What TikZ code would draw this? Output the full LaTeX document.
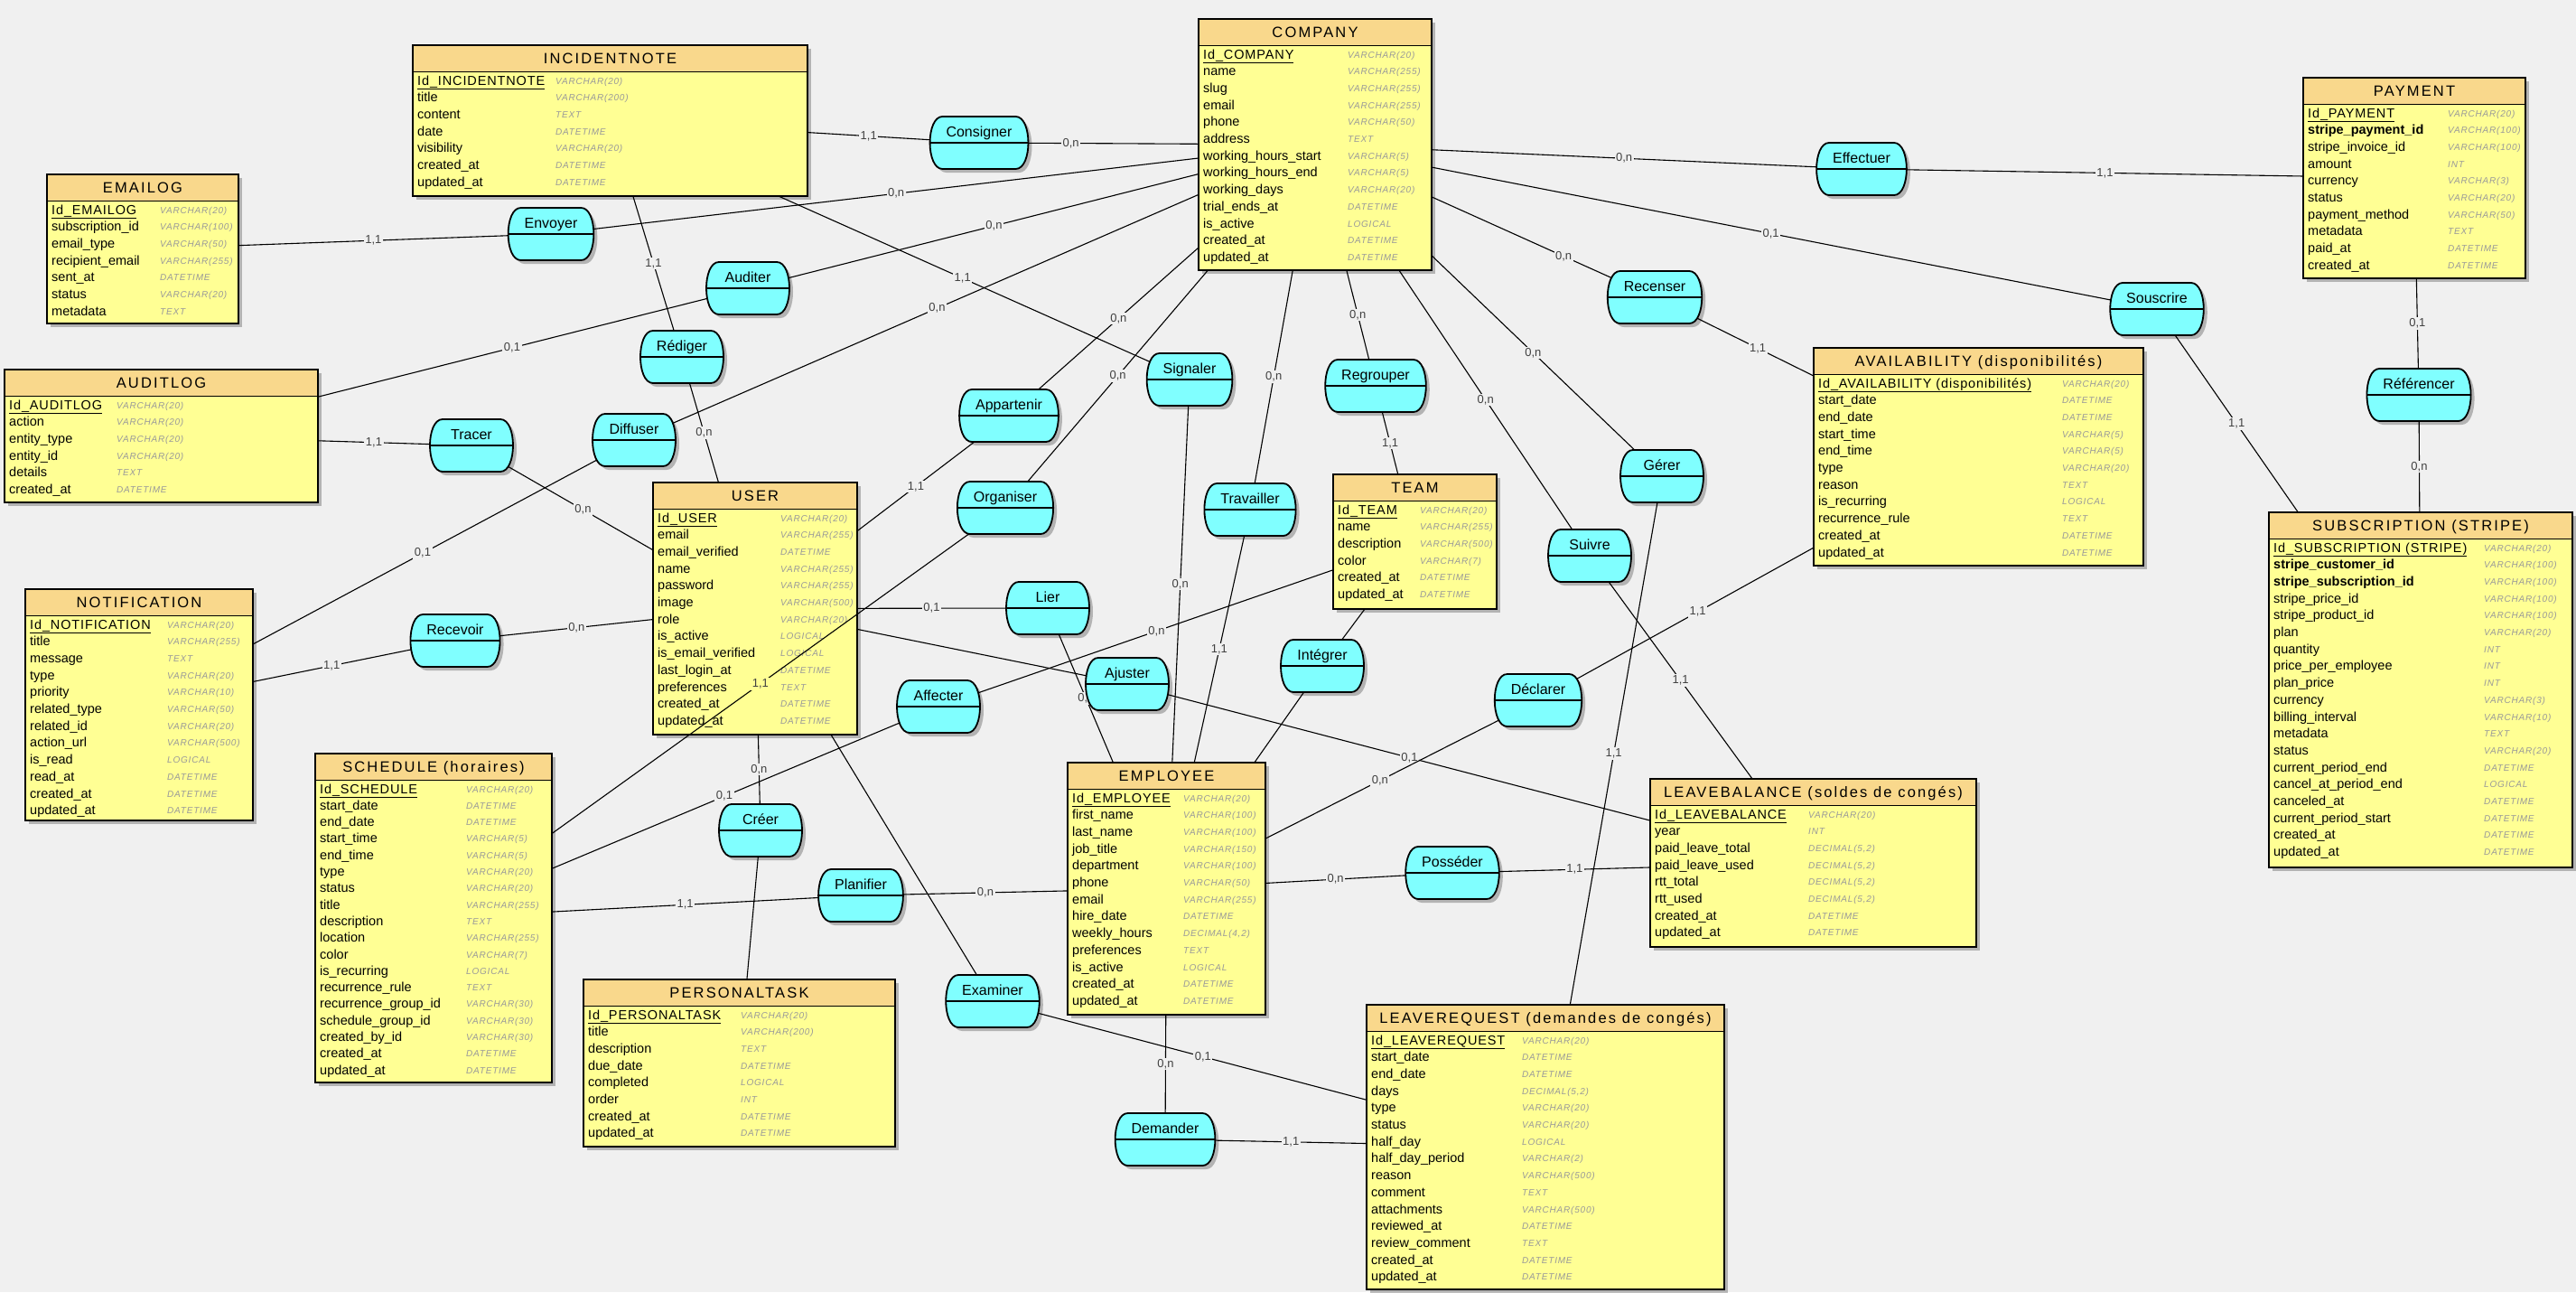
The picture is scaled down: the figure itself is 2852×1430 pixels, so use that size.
\documentclass[tikz,border=0pt]{standalone}
\usepackage{fontspec}
\setmainfont{Liberation Sans}
\newfontfamily\titrefont[LetterSpace=13]{Liberation Sans}
\newfontfamily\idfont[LetterSpace=6]{Liberation Sans}
\newfontfamily\formatfont[LetterSpace=8]{Liberation Sans}
\usetikzlibrary{calc,shadows}
\definecolor{fondcol}{RGB}{240,240,240}
\definecolor{entete}{RGB}{249,216,140}
\definecolor{corps}{RGB}{255,255,148}
\definecolor{assocfill}{RGB}{128,255,255}
\pgfdeclarelayer{fond}
\pgfdeclarelayer{liens}
\pgfdeclarelayer{tonneaux}
\pgfdeclarelayer{assocs}
\pgfsetlayers{fond,main,liens,tonneaux,assocs}

\tikzstyle{ombre}=[drop shadow={shadow xshift=4pt,shadow yshift=-4pt,fill=black,opacity=0.25}]
\tikzstyle{entite}=[fill=corps,inner sep=0pt,outer sep=0pt,ombre]
\tikzstyle{bord}=[line width=1.8pt]
\tikzstyle{titre}=[inner sep=0pt,text height=12pt,text depth=0pt,font=\titrefont\fontsize{16.5}{18}\selectfont]
\tikzstyle{champ}=[anchor=west,inner sep=0pt,text height=9pt,text depth=0pt,font=\fontsize{14.5}{16}\selectfont]
\tikzstyle{format}=[anchor=west,inner sep=0pt,text height=7pt,text depth=0pt,text=black!40,font=\formatfont\itshape\fontsize{10}{12}\selectfont]
\tikzstyle{assoc}=[minimum width=92pt,minimum height=58pt,inner xsep=18pt,inner ysep=4pt,outer sep=0pt,text height=18pt,text depth=32pt,font=\fontsize{16}{18}\selectfont]
\tikzstyle{tonneau}=[bord,fill=assocfill,ombre]
\tikzstyle{lien}=[line width=1.1pt]
\tikzstyle{card}=[pos=0.5,fill=fondcol,inner sep=1.5pt,text=black!75,font=\fontsize{13}{14}\selectfont]

\def\headh{29.5}
\def\rowh{18.7}
\def\bombe{14}

\newcommand{\cle}[1]{\underline{\idfont #1}}

% \entite{name}{top left}{width}{height}{format column}{title}{rows}
\newcommand{\entite}[7]{%
  \node[entite,minimum width=#3,minimum height=#4,anchor=north west] (#1) at #2 {};
  \fill[entete] (#1.north west) rectangle ($(#1.north east)+(0,\headh)$);
  \draw[bord] ($(#1.north west)+(0,\headh)$) -- ($(#1.north east)+(0,\headh)$);
  \draw[bord] (#1.north west) rectangle (#1.south east);
  \node[titre] (#1-titre) at ($(#1.north)+(0,\headh/2)$) {#6};
  \foreach \attr/\fmt [count=\i] in {#7}{
    \node[champ] (#1-a\i) at ($(#1.north west)+(5,\headh+10+\i*\rowh-\rowh)$) {\attr};
    \node[format] (#1-f\i) at ($(#1.north west)+(#5,\headh+10+\i*\rowh-\rowh)$) {\fmt};
  }
}

% \lien[label options]{association}{entity}{cardinality}
\newcommand{\lien}[4][]{%
  \begin{pgfonlayer}{liens}
    \draw[lien] (#2.center) -- (#3);
    \path (#2) -- node[card,#1] {#4} (#3);
  \end{pgfonlayer}
}
\newcommand{\trait}[2]{%
  \begin{pgfonlayer}{liens}
    \draw[lien] (#1.center) -- (#2);
  \end{pgfonlayer}
}

\begin{document}
\begin{tikzpicture}[x=1pt,y=-1pt]
  \useasboundingbox (0,0) rectangle (2852,1430);
  \begin{pgfonlayer}{fond}
    \fill[fondcol] (0,0) rectangle (2852,1430);
  \end{pgfonlayer}

  % ENTITIES
  \entite{incidentnote}{(457,50)}{437}{167}{158}{INCIDENTNOTE}{%
    \cle{Id\_INCIDENTNOTE}/VARCHAR(20), title/VARCHAR(200), content/TEXT,%
    date/DATETIME, visibility/VARCHAR(20), created\_at/DATETIME, updated\_at/DATETIME}
  \entite{emailog}{(52,193)}{212}{165}{125}{EMAILOG}{%
    \cle{Id\_EMAILOG}/VARCHAR(20), subscription\_id/VARCHAR(100), email\_type/VARCHAR(50),%
    recipient\_email/VARCHAR(255), sent\_at/DATETIME, status/VARCHAR(20), metadata/TEXT}
  \entite{company}{(1327,21)}{258}{278}{165}{COMPANY}{%
    \cle{Id\_COMPANY}/VARCHAR(20), name/VARCHAR(255), slug/VARCHAR(255), email/VARCHAR(255),%
    phone/VARCHAR(50), address/TEXT, working\_hours\_start/VARCHAR(5),%
    working\_hours\_end/VARCHAR(5), working\_days/VARCHAR(20), trial\_ends\_at/DATETIME,%
    is\_active/LOGICAL, created\_at/DATETIME, updated\_at/DATETIME}
  \entite{payment}{(2550,86)}{246}{222}{160}{PAYMENT}{%
    \cle{Id\_PAYMENT}/VARCHAR(20), \textbf{stripe\_payment\_id}/VARCHAR(100),%
    stripe\_invoice\_id/VARCHAR(100), amount/INT, currency/VARCHAR(3), status/VARCHAR(20),%
    payment\_method/VARCHAR(50), metadata/TEXT, paid\_at/DATETIME, created\_at/DATETIME}
  \entite{auditlog}{(5,409)}{347}{147}{124}{AUDITLOG}{%
    \cle{Id\_AUDITLOG}/VARCHAR(20), action/VARCHAR(20), entity\_type/VARCHAR(20),%
    entity\_id/VARCHAR(20), details/TEXT, created\_at/DATETIME}
  \entite{notification}{(28,652)}{252}{256}{157}{NOTIFICATION}{%
    \cle{Id\_NOTIFICATION}/VARCHAR(20), title/VARCHAR(255), message/TEXT, type/VARCHAR(20),%
    priority/VARCHAR(10), related\_type/VARCHAR(50), related\_id/VARCHAR(20),%
    action\_url/VARCHAR(500), is\_read/LOGICAL, read\_at/DATETIME, created\_at/DATETIME,%
    updated\_at/DATETIME}
  \entite{user}{(723,534)}{226}{279}{141}{USER}{%
    \cle{Id\_USER}/VARCHAR(20), email/VARCHAR(255), email\_verified/DATETIME,%
    name/VARCHAR(255), password/VARCHAR(255), image/VARCHAR(500), role/VARCHAR(20),%
    is\_active/LOGICAL, is\_email\_verified/LOGICAL, last\_login\_at/DATETIME,%
    preferences/TEXT, created\_at/DATETIME, updated\_at/DATETIME}
  \entite{team}{(1476,525)}{181}{149}{96}{TEAM}{%
    \cle{Id\_TEAM}/VARCHAR(20), name/VARCHAR(255), description/VARCHAR(500),%
    color/VARCHAR(7), created\_at/DATETIME, updated\_at/DATETIME}
  \entite{availability}{(2008,385)}{365}{241}{275}{AVAILABILITY (disponibilités)}{%
    \cle{Id\_AVAILABILITY (disponibilités)}/VARCHAR(20), start\_date/DATETIME,%
    end\_date/DATETIME, start\_time/VARCHAR(5), end\_time/VARCHAR(5), type/VARCHAR(20),%
    reason/TEXT, is\_recurring/LOGICAL, recurrence\_rule/TEXT, created\_at/DATETIME,%
    updated\_at/DATETIME}
  \entite{subscription}{(2512,567)}{336}{393}{238}{SUBSCRIPTION (STRIPE)}{%
    \cle{Id\_SUBSCRIPTION (STRIPE)}/VARCHAR(20), \textbf{stripe\_customer\_id}/VARCHAR(100),%
    \textbf{stripe\_subscription\_id}/VARCHAR(100), stripe\_price\_id/VARCHAR(100),%
    stripe\_product\_id/VARCHAR(100), plan/VARCHAR(20), quantity/INT,%
    price\_per\_employee/INT, plan\_price/INT, currency/VARCHAR(3),%
    billing\_interval/VARCHAR(10), metadata/TEXT, status/VARCHAR(20),%
    current\_period\_end/DATETIME, cancel\_at\_period\_end/LOGICAL, canceled\_at/DATETIME,%
    current\_period\_start/DATETIME, created\_at/DATETIME, updated\_at/DATETIME}
  \def\rowh{18.3}
  \entite{schedule}{(349,834)}{262}{364}{167}{SCHEDULE (horaires)}{%
    \cle{Id\_SCHEDULE}/VARCHAR(20), start\_date/DATETIME, end\_date/DATETIME,%
    start\_time/VARCHAR(5), end\_time/VARCHAR(5), type/VARCHAR(20), status/VARCHAR(20),%
    title/VARCHAR(255), description/TEXT, location/VARCHAR(255), color/VARCHAR(7),%
    is\_recurring/LOGICAL, recurrence\_rule/TEXT, recurrence\_group\_id/VARCHAR(30),%
    schedule\_group\_id/VARCHAR(30), created\_by\_id/VARCHAR(30), created\_at/DATETIME,%
    updated\_at/DATETIME}
  \def\rowh{18.7}
  \entite{employee}{(1182,844)}{219}{279}{128}{EMPLOYEE}{%
    \cle{Id\_EMPLOYEE}/VARCHAR(20), first\_name/VARCHAR(100), last\_name/VARCHAR(100),%
    job\_title/VARCHAR(150), department/VARCHAR(100), phone/VARCHAR(50),%
    email/VARCHAR(255), hire\_date/DATETIME, weekly\_hours/{DECIMAL(4,2)},%
    preferences/TEXT, is\_active/LOGICAL, created\_at/DATETIME, updated\_at/DATETIME}
  \entite{leavebalance}{(1827,862)}{361}{186}{175}{LEAVEBALANCE (soldes de congés)}{%
    \cle{Id\_LEAVEBALANCE}/VARCHAR(20), year/INT, paid\_leave\_total/{DECIMAL(5,2)},%
    paid\_leave\_used/{DECIMAL(5,2)}, rtt\_total/{DECIMAL(5,2)}, rtt\_used/{DECIMAL(5,2)},%
    created\_at/DATETIME, updated\_at/DATETIME}
  \entite{personaltask}{(646,1084)}{345}{185}{174}{PERSONALTASK}{%
    \cle{Id\_PERSONALTASK}/VARCHAR(20), title/VARCHAR(200), description/TEXT,%
    due\_date/DATETIME, completed/LOGICAL, order/INT, created\_at/DATETIME,%
    updated\_at/DATETIME}
  \entite{leaverequest}{(1513,1112)}{396}{315}{172}{LEAVEREQUEST (demandes de congés)}{%
    \cle{Id\_LEAVEREQUEST}/VARCHAR(20), start\_date/DATETIME, end\_date/DATETIME,%
    days/{DECIMAL(5,2)}, type/VARCHAR(20), status/VARCHAR(20), half\_day/LOGICAL,%
    half\_day\_period/VARCHAR(2), reason/VARCHAR(500), comment/TEXT,%
    attachments/VARCHAR(500), reviewed\_at/DATETIME, review\_comment/TEXT,%
    created\_at/DATETIME, updated\_at/DATETIME}

  % ASSOCIATIONS
  \begin{pgfonlayer}{assocs}
    \node[assoc] (consigner)  at (1084,158)  {Consigner};
    \node[assoc] (envoyer)    at (610,259)   {Envoyer};
    \node[assoc] (auditer)    at (828,319)   {Auditer};
    \node[assoc] (rediger)    at (755,395)   {Rédiger};
    \node[assoc] (diffuser)   at (702,487)   {Diffuser};
    \node[assoc] (tracer)     at (522,493)   {Tracer};
    \node[assoc] (recevoir)   at (504,709)   {Recevoir};
    \node[assoc] (signaler)   at (1317,420)  {Signaler};
    \node[assoc] (appartenir) at (1117,460)  {Appartenir};
    \node[assoc] (organiser)  at (1113,562)  {Organiser};
    \node[assoc] (regrouper)  at (1523,427)  {Regrouper};
    \node[assoc] (travailler) at (1384,564)  {Travailler};
    \node[assoc] (lier)       at (1160,673)  {Lier};
    \node[assoc] (ajuster)    at (1248,757)  {Ajuster};
    \node[assoc] (affecter)   at (1039,782)  {Affecter};
    \node[assoc] (integrer)   at (1464,737)  {Intégrer};
    \node[assoc] (creer)      at (842,919)   {Créer};
    \node[assoc] (planifier)  at (953,991)   {Planifier};
    \node[assoc] (examiner)   at (1099,1108) {Examiner};
    \node[assoc] (demander)   at (1290,1261) {Demander};
    \node[assoc] (posseder)   at (1608,966)  {Posséder};
    \node[assoc] (declarer)   at (1703,775)  {Déclarer};
    \node[assoc] (suivre)     at (1760,615)  {Suivre};
    \node[assoc] (gerer)      at (1840,527)  {Gérer};
    \node[assoc] (recenser)   at (1832,329)  {Recenser};
    \node[assoc] (effectuer)  at (2061,187)  {Effectuer};
    \node[assoc] (souscrire)  at (2388,342)  {Souscrire};
    \node[assoc] (referencer) at (2678,437)  {Référencer};
  \end{pgfonlayer}
  % barrel outlines behind the association texts
  \begin{pgfonlayer}{tonneaux}
    \foreach \asso in {consigner,envoyer,auditer,rediger,diffuser,tracer,recevoir,
      signaler,appartenir,organiser,regrouper,travailler,lier,ajuster,affecter,
      integrer,creer,planifier,examiner,demander,posseder,declarer,suivre,gerer,
      recenser,effectuer,souscrire,referencer}{
      \draw[tonneau] ($(\asso.north west)+(\bombe,0)$) -- ($(\asso.north east)+(-\bombe,0)$)
        .. controls ($(\asso.north east)+(\bombe/3,0)$) and ($(\asso.south east)+(\bombe/3,0)$) .. ($(\asso.south east)+(-\bombe,0)$)
        -- ($(\asso.south west)+(\bombe,0)$)
        .. controls ($(\asso.south west)+(-\bombe/3,0)$) and ($(\asso.north west)+(-\bombe/3,0)$) .. cycle;
      \draw[bord] (\asso.west) -- (\asso.east);
    }
  \end{pgfonlayer}

  % LINKS
  \lien{consigner}{incidentnote}{1,1}
  \lien[pos=0.25]{consigner}{company}{0,n}
  \lien{envoyer}{emailog}{1,1}
  \lien{envoyer}{company}{0,n}
  \lien{auditer}{auditlog}{0,1}
  \lien{auditer}{company}{0,n}
  \lien{rediger}{incidentnote}{1,1}
  \lien{rediger}{user}{0,n}
  \lien{diffuser}{notification}{0,1}
  \lien{diffuser}{company}{0,n}
  \lien{tracer}{auditlog}{1,1}
  \lien{tracer}{user}{0,n}
  \lien{recevoir}{notification}{1,1}
  \lien{recevoir}{user}{0,n}
  \lien{signaler}{incidentnote}{1,1}
  \lien{signaler}{employee}{0,n}
  \lien{appartenir}{user}{1,1}
  \lien{appartenir}{company}{0,n}
  \lien[fill=corps]{organiser}{schedule}{1,1}
  \lien{organiser}{company}{0,n}
  \lien{regrouper}{company}{0,n}
  \lien{regrouper}{team}{1,1}
  \lien{travailler}{company}{0,n}
  \lien{travailler}{employee}{1,1}
  \lien{lier}{user}{0,1}
  \lien{lier}{employee}{0,1}
  \trait{ajuster}{user}
  \lien{ajuster}{leavebalance}{0,1}
  \lien{affecter}{schedule}{0,1}
  \lien{affecter}{team}{0,n}
  \trait{integrer}{team}
  \trait{integrer}{employee}
  \lien{creer}{user}{0,n}
  \trait{creer}{personaltask}
  \lien{planifier}{schedule}{1,1}
  \lien{planifier}{employee}{0,n}
  \trait{examiner}{user}
  \lien{examiner}{leaverequest}{0,1}
  \lien{demander}{employee}{0,n}
  \lien{demander}{leaverequest}{1,1}
  \lien{posseder}{employee}{0,n}
  \lien{posseder}{leavebalance}{1,1}
  \lien{declarer}{availability}{1,1}
  \lien{declarer}{employee}{0,n}
  \lien{suivre}{company}{0,n}
  \lien{suivre}{leavebalance}{1,1}
  \lien{gerer}{company}{0,n}
  \lien{gerer}{leaverequest}{1,1}
  \lien[pos=0.25]{recenser}{company}{0,n}
  \lien{recenser}{availability}{1,1}
  \lien{effectuer}{company}{0,n}
  \lien{effectuer}{payment}{1,1}
  \lien{souscrire}{company}{0,1}
  \lien{souscrire}{subscription}{1,1}
  \lien{referencer}{payment}{0,1}
  \lien{referencer}{subscription}{0,n}
\end{tikzpicture}
\end{document}
